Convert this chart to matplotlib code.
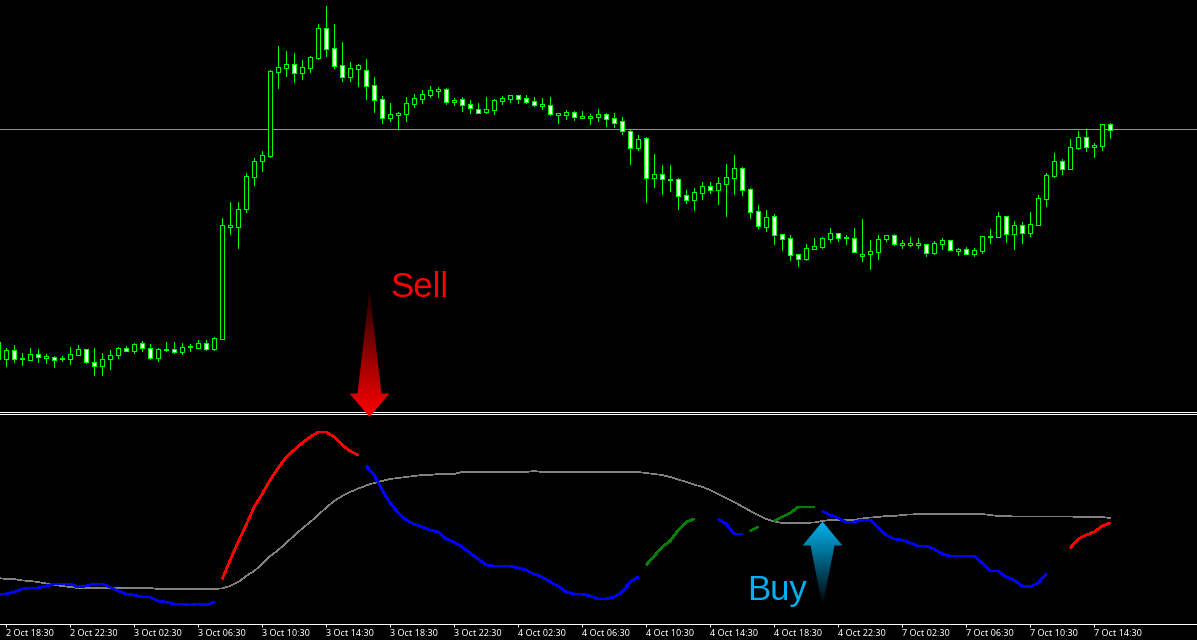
import numpy as np
import matplotlib
matplotlib.use("Agg")
import matplotlib.pyplot as plt
from matplotlib.patches import Polygon
from matplotlib.colors import LinearSegmentedColormap

# candles, first one is cut off by the left edge (bar -1)
highs = [68, 62, 65, 57, 62, 61, 56, 54, 54, 63, 65, 61, 62, 57, 60, 63, 64, 67, 69, 66, 62, 68, 68, 67, 66, 70, 70, 73,
         192, 208, 208, 237, 252, 259, 340, 364, 359, 357, 350, 354, 386, 404, 386, 368, 348, 346, 351, 333, 314, 307,
         298, 313, 316, 320, 324, 323, 322, 312, 313, 310, 307, 313, 311, 314, 315, 315, 315, 313, 312, 313, 297, 300,
         299, 299, 296, 301, 297, 297, 293, 280, 275, 273, 256, 245, 245, 232, 220, 222, 228, 228, 233, 246, 255, 243,
         222, 205, 200, 196, 176, 175, 156, 166, 172, 173, 182, 177, 175, 182, 191, 170, 175, 175, 176, 170, 173, 172,
         166, 169, 172, 170, 162, 163, 162, 174, 181, 198, 194, 189, 188, 198, 215, 237, 257, 251, 271, 279, 281, 267,
         286, 287]
lows = [51, 44, 48, 45, 50, 48, 47, 43, 49, 46, 55, 47, 35, 35, 41, 52, 59, 57, 59, 51, 49, 59, 57, 56, 59, 62, 60, 60,
        71, 176, 162, 198, 225, 239, 253, 322, 334, 328, 331, 338, 351, 354, 342, 329, 329, 324, 311, 298, 287, 289,
        281, 289, 303, 307, 313, 313, 306, 305, 299, 297, 297, 297, 296, 306, 308, 307, 307, 304, 301, 295, 287, 291,
        290, 292, 286, 289, 284, 283, 276, 246, 260, 208, 223, 216, 219, 201, 207, 200, 211, 217, 206, 194, 216, 215,
        192, 182, 179, 166, 160, 150, 144, 150, 161, 162, 168, 169, 166, 158, 149, 141, 151, 169, 165, 162, 164, 162,
        154, 156, 161, 160, 155, 156, 154, 157, 167, 173, 168, 161, 167, 174, 185, 204, 233, 236, 241, 261, 259, 253,
        260, 272]
opens = [51, 51, 60, 52, 50, 56, 52, 53, 51, 51, 55, 61, 48, 44, 51, 55, 62, 59, 67, 62, 52, 60, 61, 58, 63, 62, 67, 61,
         71, 183, 183, 201, 233, 249, 254, 338, 342, 346, 337, 342, 352, 382, 362, 345, 333, 341, 340, 325, 311, 292,
         295, 296, 306, 311, 315, 319, 321, 308, 311, 306, 301, 298, 300, 309, 311, 315, 312, 309, 304, 305, 295, 295,
         298, 292, 292, 293, 296, 292, 289, 279, 262, 272, 232, 236, 230, 231, 215, 210, 217, 224, 220, 226, 232, 242,
         221, 199, 183, 194, 176, 172, 156, 151, 161, 163, 171, 177, 172, 172, 154, 156, 158, 171, 175, 165, 165, 165,
         166, 157, 166, 170, 159, 161, 156, 159, 173, 173, 194, 176, 185, 177, 185, 211, 234, 249, 241, 262, 273, 263,
         264, 286]
closes = [68, 60, 51, 51, 56, 53, 54, 50, 52, 56, 61, 48, 44, 51, 55, 62, 59, 66, 62, 52, 61, 61, 58, 63, 64, 67, 61, 72,
          185, 185, 201, 234, 249, 255, 339, 343, 346, 337, 343, 353, 382, 361, 344, 333, 342, 345, 324, 310, 292, 296,
          297, 307, 312, 316, 320, 321, 308, 310, 305, 302, 297, 301, 310, 312, 315, 311, 308, 305, 306, 296, 297, 298,
          293, 294, 294, 296, 291, 287, 279, 262, 271, 232, 236, 231, 231, 214, 210, 218, 224, 220, 227, 233, 242, 220,
          198, 184, 193, 175, 171, 155, 151, 162, 164, 172, 177, 172, 173, 158, 156, 159, 171, 175, 166, 167, 167, 167,
          157, 167, 170, 160, 161, 156, 160, 174, 174, 194, 176, 185, 177, 186, 212, 235, 249, 241, 263, 273, 263, 265,
          286, 280]
level_line = 281

# oscillator, (first bar, values) for every coloured piece
osc_blue = [(-1, [28, 28, 30, 33, 34, 34, 36, 38, 38, 38, 35, 36, 38, 38, 35, 31, 28, 27, 25, 25, 21, 20, 18, 18, 17, 18, 17, 20]),
            (45, [156, 147, 132, 119, 109, 102, 98, 95, 92, 90, 83, 80, 75, 69, 63, 57, 56, 56, 56, 54, 52, 48, 45, 40, 36,
                  30, 28, 28, 26, 23, 23, 25, 30, 40, 45]),
            (89, [103, 98, 88, 88]),
            (102, [111, 107, 104, 100, 100, 102, 102, 94, 87, 83, 82, 79, 76, 76, 73, 68, 66, 66, 66, 66, 59, 51, 51, 45, 42,
                   36, 35, 39, 48])]
osc_red = [(27, [43, 62, 80, 97, 115, 128, 142, 154, 165, 172, 179, 185, 190, 190, 185, 177, 171, 167]),
           (133, [74, 83, 87, 90, 96, 99])]
osc_green = [(80, [57, 66, 75, 81, 92, 100, 103]),
             (93, [91, 95]),
             (96, [101, 105, 109, 115, 115, 115])]
signal = [44, 43, 43, 41.5, 41, 40, 38.5, 37, 36, 35, 34, 34, 34, 34, 34, 34, 34, 34, 34, 34, 33, 33, 33, 33, 33, 33, 33, 33,
          33.5, 36, 40, 46, 51, 58, 66, 72, 79, 86.5, 93.5, 100, 107, 114.5, 121, 126, 130, 133.5, 136.5, 139, 141, 143,
          144, 145, 146, 147, 147, 148, 148, 148, 150, 150, 150, 150, 150, 150, 150, 150, 150, 151, 150, 150, 150, 150,
          150, 150, 150, 150, 150, 150, 150, 150, 150, 149, 148, 147, 145, 142.5, 140, 137.5, 135, 132, 128, 124, 120,
          115.5, 111, 107, 103, 100.5, 99, 99, 99, 99, 99.5, 101, 102, 102, 102, 102, 103.5, 104.5, 105, 106, 106, 107,
          107.5, 108, 108, 108, 108, 108, 108, 108, 108, 108, 107, 106, 106, 105.5, 105.5, 105.5, 105.5, 105.5, 105.5,
          105.5, 105.5, 105, 105, 105, 105, 104]

tick_bars = [0, 8, 16, 24, 32, 40, 48, 56, 64, 72, 80, 88, 96, 104, 112, 120, 128, 136]
tick_labels = ["2 Oct 18:30", "2 Oct 22:30", "3 Oct 02:30", "3 Oct 06:30", "3 Oct 10:30", "3 Oct 14:30",
               "3 Oct 18:30", "3 Oct 22:30", "4 Oct 02:30", "4 Oct 06:30", "4 Oct 10:30", "4 Oct 14:30",
               "4 Oct 18:30", "4 Oct 22:30", "7 Oct 02:30", "7 Oct 06:30", "7 Oct 10:30", "7 Oct 14:30"]

W, H = 1197, 640
px = 0.72  # one pixel in points at dpi 100
fig = plt.figure(figsize=(W / 100, H / 100), dpi=100, facecolor="black")
ax1 = fig.add_axes([0, 1 - 411.5 / H, 1, 411.5 / H], facecolor="black")
ax2 = fig.add_axes([0, 1 - 623.5 / H, 1, 210 / H], facecolor="black")
ax1.set_ylim(-1.5, 410)
ax2.set_ylim(-1.5, 208.5)
for ax in (ax1, ax2):
    ax.set_xlim(-6.2 / 8, (W - 6.2) / 8)
    for s in ax.spines.values():
        s.set_visible(False)
    ax.tick_params(left=False, labelleft=False)

# price panel
bars = np.arange(-1, len(highs) - 1)
opens_a, closes_a = np.array(opens), np.array(closes)
ax1.axhline(level_line, color="#909090", lw=px, zorder=1)
ax1.vlines(bars, lows, highs, color="#00ff00", lw=px, antialiased=False, zorder=2)
filled = closes_a < opens_a
ax1.bar(bars, np.abs(closes_a - opens_a), bottom=np.minimum(opens_a, closes_a), width=0.5,
        color=np.where(filled, "white", "black"), edgecolor="#00ff00", lw=px, antialiased=False, zorder=3)
ax1.spines["bottom"].set_visible(True)
ax1.spines["bottom"].set_color("white")
ax1.spines["bottom"].set_linewidth(px)
ax1.tick_params(bottom=False, labelbottom=False)

# oscillator panel
ax2.plot(bars, signal, color="#808080", lw=0.6 * px, antialiased=False, zorder=2)
for pieces, colour in ((osc_blue, "#0000ff"), (osc_red, "#ff0000"), (osc_green, "#008000")):
    for start, values in pieces:
        ax2.plot(start + np.arange(len(values)), values, color=colour, lw=1.6 * px,
                 antialiased=False, solid_capstyle="butt", zorder=3)
ax2.spines["top"].set_visible(True)
ax2.spines["bottom"].set_visible(True)
for side in ("top", "bottom"):
    ax2.spines[side].set_color("white")
    ax2.spines[side].set_linewidth(px)
ax2.set_xticks(tick_bars)
ax2.set_xticklabels(tick_labels, ha="left", fontsize=6.5, color="white", family="Noto Sans")
ax2.tick_params(axis="x", color="white", width=px, length=3 * px, pad=2)

# annotations on top, in picture coordinates
over = fig.add_axes([0, 0, 1, 1], facecolor="none")
over.set_xlim(0, W)
over.set_ylim(H, 0)
over.axis("off")

def gradient_arrow(points, colours):
    ys = [p[1] for p in points]
    xs = [p[0] for p in points]
    cmap = LinearSegmentedColormap.from_list("arrow", colours)
    grad = np.linspace(0, 1, 256).reshape(-1, 1)
    im = over.imshow(grad, cmap=cmap, aspect="auto", extent=(min(xs), max(xs), max(ys), min(ys)), zorder=5)
    im.set_clip_path(Polygon(points, closed=True, transform=over.transData))

gradient_arrow([(369.5, 290), (381.5, 393.5), (389.5, 393.5), (369.5, 417), (349.5, 393.5), (357.5, 393.5)],
               ["#200000", "#ff0000"])
gradient_arrow([(822.5, 606.5), (834.5, 545.5), (842.5, 545.5), (822.5, 521.5), (802.5, 545.5), (810.5, 545.5)],
               ["#00b4f0", "#000000"])
over.set_xlim(0, W)
over.set_ylim(H, 0)
over.text(390, 297, "Sell", color="#ff0000", fontsize=25, family="Liberation Sans", va="baseline", zorder=6)
over.text(747, 600, "Buy", color="#00b0f0", fontsize=25, family="Liberation Sans", va="baseline", zorder=6)

fig.savefig("out.png", dpi=100, facecolor="black")
